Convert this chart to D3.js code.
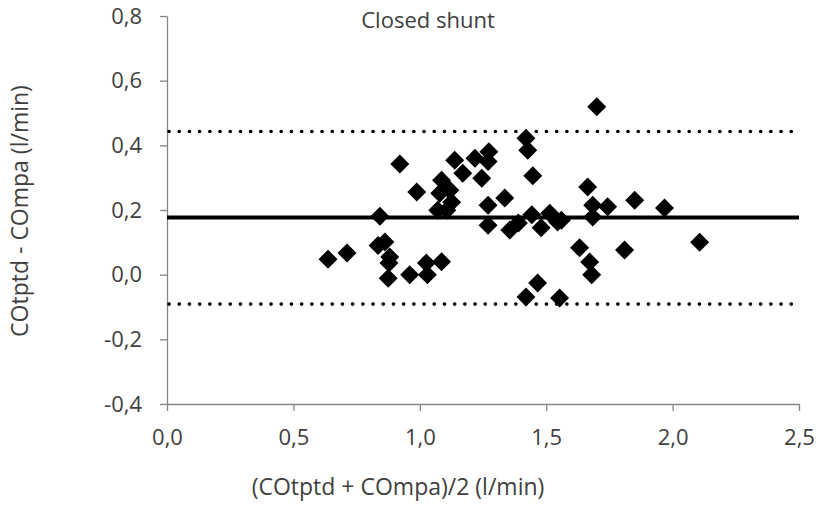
<!DOCTYPE html>
<html>
<head>
<meta charset="utf-8">
<script src="https://cdn.jsdelivr.net/npm/d3@7"></script>
<style>
  body { margin: 0; background: #fff; }
  text { font-family: "Open Sans", sans-serif; fill: #404040; }
</style>
</head>
<body>
<svg id="chart" width="819" height="506"></svg>
<script>
// mean of the two methods (x) and their difference (y), l/min
var meanCO = [0.637, 0.712, 0.842, 0.835, 0.862, 0.881, 0.878, 0.875, 0.921, 0.960,
              0.988, 1.026, 1.030, 1.086, 1.086, 1.079, 1.119, 1.126, 1.071, 1.107,
              1.138, 1.170, 1.218, 1.273, 1.270, 1.245, 1.270, 1.270, 1.336, 1.356,
              1.390, 1.420, 1.427, 1.447, 1.443, 1.480, 1.514, 1.545, 1.560, 1.466,
              1.420, 1.553, 1.700, 1.664, 1.684, 1.743, 1.684, 1.632, 1.672, 1.680,
              1.810, 1.850, 1.968, 2.107];
var diffCO = [0.048, 0.067, 0.181, 0.090, 0.101, 0.055, 0.036, -0.011, 0.342, 0.000,
              0.256, 0.036, 0.000, 0.040, 0.292, 0.252, 0.261, 0.224, 0.199, 0.199,
              0.354, 0.314, 0.360, 0.380, 0.350, 0.298, 0.215, 0.153, 0.237, 0.138,
              0.160, 0.422, 0.385, 0.306, 0.185, 0.145, 0.190, 0.163, 0.168, -0.026,
              -0.069, -0.072, 0.519, 0.271, 0.215, 0.210, 0.178, 0.083, 0.039, 0.000,
              0.076, 0.230, 0.206, 0.100];

var bias = 0.177;
var limits = [0.443, -0.091];

var xTicks = [0, 0.5, 1, 1.5, 2, 2.5];
var yTicks = [-0.4, -0.2, 0, 0.2, 0.4, 0.6, 0.8];

var svg = d3.select("#chart");
var x = d3.scaleLinear().domain([0, 2.5]).range([167, 799]);
var y = d3.scaleLinear().domain([-0.4, 0.8]).range([404, 16]);
var fmt = function(d) { return d3.format(".1f")(d).replace(".", ",").replace("\u2212", "-"); };

// axes
var xAxis = svg.append("g").attr("transform", "translate(0," + y(-0.4) + ")")
    .call(d3.axisBottom(x).tickValues(xTicks).tickSize(7).tickSizeOuter(0).tickFormat(fmt).tickPadding(18));
var yAxis = svg.append("g").attr("transform", "translate(" + x(0) + ",0)")
    .call(d3.axisLeft(y).tickValues(yTicks).tickSize(7).tickSizeOuter(0).tickFormat(fmt).tickPadding(18));
[xAxis, yAxis].forEach(function(a) {
  a.select(".domain").attr("stroke", "#868686").attr("stroke-width", 1.3);
  a.selectAll(".tick line").attr("stroke", "#868686").attr("stroke-width", 1.3);
  a.selectAll("text").style("font-size", "22px").attr("fill", "#404040");
});

// limits of agreement and bias
svg.selectAll(".loa").data(limits).enter().append("line")
  .attr("x1", x(0) + 2).attr("x2", x(2.5))
  .attr("y1", function(d) { return y(d); }).attr("y2", function(d) { return y(d); })
  .attr("stroke", "#000").attr("stroke-width", 3.6)
  .attr("stroke-linecap", "round").attr("stroke-dasharray", "0.1 10.1");
svg.append("line")
  .attr("x1", x(0)).attr("x2", x(2.5)).attr("y1", y(bias)).attr("y2", y(bias))
  .attr("stroke", "#000").attr("stroke-width", 4);

// points
var diamond = d3.symbol().type(d3.symbolSquare).size(180);
svg.selectAll(".pt").data(meanCO).enter().append("path")
  .attr("d", diamond)
  .attr("transform", function(d, i) { return "translate(" + x(d) + "," + y(diffCO[i]) + ") rotate(45)"; })
  .attr("fill", "#000");

// labels
svg.append("text").attr("x", 428).attr("y", 28).attr("text-anchor", "middle")
  .style("font-size", "22px").text("Closed shunt");
svg.append("text").attr("x", 398).attr("y", 495).attr("text-anchor", "middle")
  .style("font-size", "23px").text("(COtptd + COmpa)/2 (l/min)");
svg.append("text").attr("transform", "translate(28,211) rotate(-90)").attr("text-anchor", "middle")
  .style("font-size", "23px").text("COtptd - COmpa (l/min)");
</script>
</body>
</html>
